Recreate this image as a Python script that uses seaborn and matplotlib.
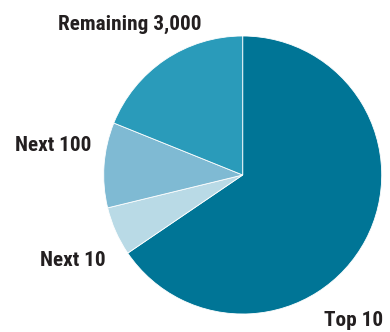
import matplotlib
matplotlib.use("Agg")
import matplotlib.pyplot as plt
import seaborn as sns

# Share of the total held by each group
groups = ["Top 10", "Next 10", "Next 100", "Remaining 3,000"]
shares = [65.5, 5.7, 9.9, 18.9]
colors = ["#007596", "#b9dae6", "#7fbad3", "#2a9bba"]

sns.set_theme(style="white")
plt.rcParams["font.family"] = ["Roboto Condensed", "DejaVu Sans"]

W, H = 390, 332
fig = plt.figure(figsize=(W / 100, H / 100), dpi=100)

cx, cy, r = 242.7, 175.0, 139.0
ax = fig.add_axes([(cx - r) / W, (H - cy - r) / H, 2 * r / W, 2 * r / H])
ax.pie(shares, colors=sns.color_palette(colors), startangle=90, counterclock=False,
       radius=1, wedgeprops=dict(edgecolor="white", linewidth=0.6))
ax.set_xlim(-1, 1)
ax.set_ylim(-1, 1)
ax.set_aspect("equal")
ax.axis("off")

# Group names placed around the pie (centre x, baseline y in pixels)
label_pos = {
    "Remaining 3,000": (130, 30),
    "Next 100": (53, 151),
    "Next 10": (73, 266),
    "Top 10": (354, 326),
}
for name in groups:
    x, y = label_pos[name]
    fig.text(x / W, (H - y) / H, name, ha="center", va="baseline",
             fontsize=15.3, fontweight="bold", fontstretch="condensed",
             color="#231f20")

fig.savefig("out.png", dpi=100, facecolor="white")
